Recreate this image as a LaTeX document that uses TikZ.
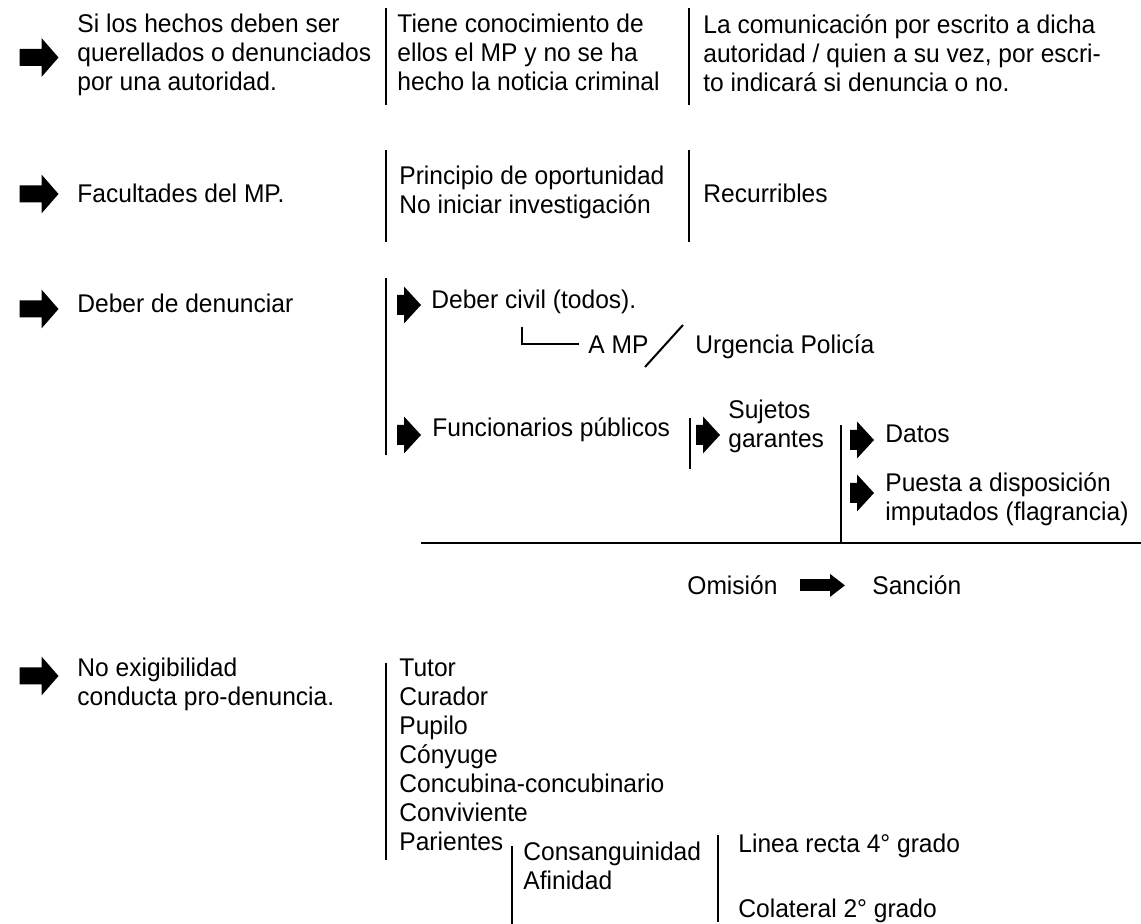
\documentclass[tikz,border=0pt]{standalone}
\usepackage{fontspec}
\setmainfont{Liberation Sans}[FakeStretch=0.96]
\usepackage{tikz}
\usetikzlibrary{arrows.meta,positioning}

\tikzset{
  lbl/.style={anchor=north west,inner sep=0pt,align=left,font=\fontsize{12.8}{14.5}\selectfont,
    execute at begin node={\rule{0pt}{10.5pt}}},
  bar/.style={line width=1.4pt},
  bigarr/.pic={\fill (-19.5,-8.5) -- (2.5,-8.5) -- (2.5,-19.5) -- (19.5,0) -- (2.5,19.5) -- (2.5,8.5) -- (-19.5,8.5) -- cycle;},
  smallarr/.pic={\fill (-12,-10) -- (-5,-10) -- (-5,-18.5) -- (12,0) -- (-5,18.5) -- (-5,10) -- (-12,10) -- cycle;}
}

\begin{document}
\begin{tikzpicture}[x=0.5pt,y=-0.5pt]
  \useasboundingbox (0,0) rectangle (1141,924);
  % First row: autoridad
  \pic at (39,57.5) {bigarr};
  \node[lbl] (querella) at (77,14) {Si los hechos deben ser\\querellados o denunciados\\por una autoridad.};
  \draw[bar] (386,8) -- (386,105);
  \node[lbl] (conoce) at (397,14) {Tiene conocimiento de\\ellos el MP y no se ha\\hecho la noticia criminal};
  \draw[bar] (689,8) -- (689,105);
  \node[lbl] (escrito) at (703,14) {La comunicación por escrito a dicha\\autoridad / quien a su vez, por escri-\\to indicará si denuncia o no.};
  % Second row: facultades
  \pic at (39,194) {bigarr};
  \node[lbl] (facultad) at (77,181) {Facultades del MP.};
  \draw[bar] (386,150) -- (386,242);
  \node[lbl] (oportun) at (399,166) {Principio de oportunidad\\No iniciar investigación};
  \draw[bar] (689,150) -- (689,242);
  \node[lbl] (recurr) at (703,181) {Recurribles};
  % Third row: deber de denunciar
  \pic at (39,309) {bigarr};
  \node[lbl] (deber) at (77,291) {Deber de denunciar};
  \draw[bar] (386,278) -- (386,455);
  \pic at (409,305) {smallarr};
  \node[lbl] (civil) at (431,287) {Deber civil (todos).};
  \node[lbl] (amp) at (588,332) {A MP};
  \node[lbl] (urgen) at (695,332) {Urgencia Policía};
  \coordinate (civil-l) at (522,327);
  \draw[line width=1.1pt] (civil-l) |- ([shift={(-9,-9.5)}]amp.base west);
  \coordinate (slash) at (664,346);
  \draw[line width=1pt] ([shift={(-19,21)}]slash) -- ([shift={(19,-21)}]slash);
  \pic at (409,435) {smallarr};
  \node[lbl] (funcion) at (432,415) {Funcionarios públicos};
  \draw[bar] (690,418) -- (690,469);
  \pic at (708,435) {smallarr};
  \node[lbl] (sujetos) at (728,400) {Sujetos\\garantes};
  \draw[bar] (841,425) -- (841,543);
  \pic at (862,440) {smallarr};
  \node[lbl] (datos) at (885,421) {Datos};
  \pic at (862,493) {smallarr};
  \node[lbl] (puesta) at (885,472) {Puesta a disposición\\imputados (flagrancia)};
  \draw[bar] (421,543) -- (1141,543);
  % Omision - sancion
  \node[lbl] (omision) at (687,573) {Omisión};
  \node[lbl] (sancion) at (872,573) {Sanción};
  \draw[line width=6pt,-{Triangle[width=11pt,length=7.5pt]},shorten <=11pt,shorten >=13.5pt]
    ([shift={(0,-9)}]omision.base east) -- ([shift={(0,-9)}]sancion.base west);
  % Fourth row: no exigibilidad
  \pic at (39,676) {bigarr};
  \node[lbl] (noexig) at (77,658) {No exigibilidad\\conducta pro-denuncia.};
  \draw[bar] (386,663) -- (386,860);
  \node[lbl] (lista) at (399,658) {Tutor\\Curador\\Pupilo\\Cónyuge\\Concubina-concubinario\\Conviviente\\Parientes};
  \draw[bar] (512,846) -- (512,924);
  \node[lbl] (consang) at (523,842) {Consanguinidad\\Afinidad};
  \draw[bar] (718,835) -- (718,922);
  \node[lbl] (recta) at (738,831) {Linea recta 4° grado};
  \node[lbl] (colat) at (738,896) {Colateral 2° grado};
\end{tikzpicture}
\end{document}
